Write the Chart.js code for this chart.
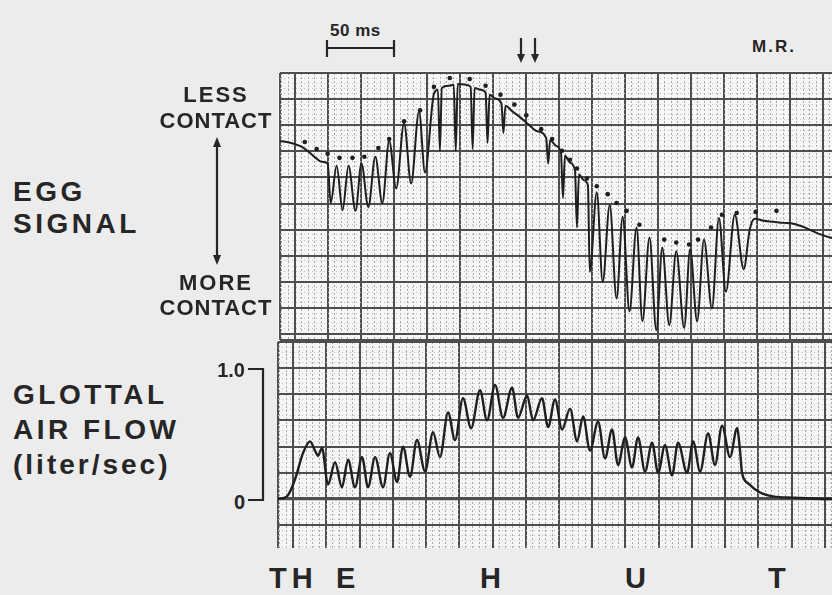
<!DOCTYPE html>
<html><head><meta charset="utf-8">
<script src="https://cdn.jsdelivr.net/npm/chart.js@4.4.1/dist/chart.umd.min.js"></script>
<style>
html,body{margin:0;padding:0;width:832px;height:595px;overflow:hidden;background:#ececec;}
body{position:relative;font-family:"Liberation Sans",Arial,sans-serif;font-weight:bold;color:#262626;}
.t{position:absolute;white-space:nowrap;line-height:1;}
#paper{position:absolute;left:278px;top:71px;width:554px;height:477px;background:#f6f6f6;}
canvas{position:absolute;}
svg{position:absolute;left:0;top:0;}
</style></head><body>
<div id="paper"></div>
<canvas id="egg" width="566" height="275" style="left:276px;top:69px"></canvas>
<canvas id="flow" width="566" height="210" style="left:276px;top:340px"></canvas>

<div class="t" style="left:13px;top:178px;font-size:28px;letter-spacing:3.5px">EGG</div>
<div class="t" style="left:13px;top:210px;font-size:28px;letter-spacing:3.5px">SIGNAL</div>
<div class="t" style="left:150px;top:84px;width:132px;text-align:center;font-size:22px;letter-spacing:2px">LESS</div>
<div class="t" style="left:150px;top:110px;width:132px;text-align:center;font-size:22px;letter-spacing:1px">CONTACT</div>
<div class="t" style="left:150px;top:272px;width:132px;text-align:center;font-size:22px;letter-spacing:2px">MORE</div>
<div class="t" style="left:150px;top:297px;width:132px;text-align:center;font-size:22px;letter-spacing:1px">CONTACT</div>
<div class="t" style="left:13px;top:381px;font-size:28px;letter-spacing:3.5px">GLOTTAL</div>
<div class="t" style="left:13px;top:416px;font-size:28px;letter-spacing:3.5px">AIR FLOW</div>
<div class="t" style="left:13px;top:451px;font-size:28px;letter-spacing:3px">(liter/sec)</div>
<div class="t" style="left:195px;top:360px;width:50px;text-align:right;font-size:20px">1.0</div>
<div class="t" style="left:195px;top:492px;width:50px;text-align:right;font-size:20px">0</div>
<div class="t" style="left:330px;top:22px;font-size:17px;letter-spacing:0.5px">50 ms</div>
<div class="t" style="left:752px;top:38px;font-size:17px;letter-spacing:2px">M.R.</div>
<div class="t" style="left:269px;top:564px;font-size:29px;letter-spacing:5px">TH</div>
<div class="t" style="left:336px;top:564px;font-size:29px">E</div>
<div class="t" style="left:480px;top:564px;font-size:29px">H</div>
<div class="t" style="left:625px;top:564px;font-size:29px">U</div>
<div class="t" style="left:768px;top:564px;font-size:29px">T</div>

<svg width="832" height="595" viewBox="0 0 832 595">
  <g stroke="#262626" stroke-width="2.2" fill="none">
    <line x1="327" y1="48" x2="394" y2="48"/>
    <line x1="327" y1="40" x2="327" y2="57"/>
    <line x1="394" y1="40" x2="394" y2="57"/>
    <line x1="521" y1="38" x2="521" y2="56"/>
    <line x1="535" y1="38" x2="535" y2="56"/>
    <line x1="217" y1="144" x2="217" y2="258"/>
    <polyline points="248,369 263,369 263,500 248,500"/>
  </g>
  <g fill="#262626">
    <polygon points="517,54 525,54 521,63"/>
    <polygon points="531,54 539,54 535,63"/>
    <polygon points="213,147 221,147 217,137"/>
    <polygon points="213,255 221,255 217,265"/>
  </g>
</svg>

<script>
// time axis in ms (one major grid division = 25 ms; 50 ms bar = 2 divisions)
const timeTicks = [0,25,50,75,100,125,150,175,200,225,250,275,300,325,350,375,400];
const eggTicks = [0,1,2,3,4,5,6,7,8,9,10];
const flowTicks = [1.0,0.8,0.6,0.4,0.2,0,-0.2];

// EGG signal (arbitrary units, up = less contact)
const eggTime = [-11.3,-6.0,0,5.3,10.5,15.8,20.3,24.8,27.1,31.6,36.1,40.6,45.9,50.4,55.6,60.9,66.2,71.4,76.7,82.7,88.0,94.0,98.5,105.3,108.3,109.8,111.3,116.6,120.3,121.8,123.3,129.3,133.1,134.6,136.1,140.6,144.4,145.9,147.4,151.9,156.4,157.9,159.4,164.7,170.7,176.7,183.5,190.3,191.8,193.3,197.8,201.5,203.0,204.5,208.3,212.1,213.6,215.1,218.9,221.9,223.3,228.6,233.1,238.4,243.6,248.2,253.4,258.7,263.2,268.5,273.7,278.2,283.5,288.8,294.8,299.3,304.6,309.8,315.8,321.1,326.4,333.1,339.9,344.4,348.2,354.9,362.5,370.0,377.5,386.5,396.3,405.3,411.3];
const eggSignal = [7.40,7.36,7.28,7.17,6.98,6.75,6.60,6.53,5.02,6.45,4.75,6.45,4.72,6.53,4.87,6.79,5.02,7.40,5.58,8.08,5.77,8.53,6.19,9.21,9.36,7.02,9.43,9.51,9.55,7.02,9.58,9.55,9.47,7.09,9.43,9.36,9.25,7.32,9.17,9.02,8.83,7.70,8.75,8.53,8.30,8.04,7.77,7.51,6.53,7.43,7.21,6.94,5.21,6.83,6.57,6.26,4.08,6.11,5.89,5.70,2.38,5.43,2.00,4.94,1.36,4.49,0.87,4.08,0.49,3.70,0.15,3.32,0.34,3.17,0.23,3.25,0.49,3.62,0.98,4.45,1.62,4.57,2.49,4.00,4.42,4.34,4.30,4.26,4.23,4.08,3.85,3.70,3.62];

// dotted envelope marks above the EGG trace
const eggDotTime = [7.5,16.5,24.8,33.8,43.6,52.6,63.2,71.4,82.7,94.8,105.3,117.3,132.4,144.4,155.7,166.2,175.2,186.5,194.8,202.3,208.3,213.6,221.1,228.6,236.9,243.6,251.2,260.9,279.7,288.8,298.5,305.3,315.1,323.4,334.6,348.9,364.7];
const eggDotSignal = [7.36,7.09,6.91,6.75,6.75,6.79,7.13,7.47,8.15,8.57,9.47,9.81,9.77,9.51,9.17,8.79,8.38,7.85,7.47,7.02,6.68,6.34,5.96,5.66,5.36,5.02,4.72,4.19,3.62,3.51,3.43,3.62,4.08,4.57,4.64,4.68,4.72];

// glottal air flow (liter/sec)
const flowTime = [-11.3,-4.5,1.5,7.5,12.8,16.5,18.8,21.8,26.3,31.6,36.8,41.4,46.6,51.9,56.4,61.7,67.7,72.9,78.2,82.7,88.0,93.2,99.3,105.3,110.5,116.6,121.8,127.8,133.9,140.6,145.9,151.9,157.9,164.7,169.2,176.0,180.5,187.2,191.8,197.0,202.3,208.3,213.6,218.1,223.3,229.4,234.6,239.9,244.4,249.7,254.9,259.4,264.7,270.0,274.5,279.7,285.0,289.5,296.3,300.8,306.1,312.1,317.3,322.6,328.6,333.9,336.1,337.6,342.2,351.2,361.0,376.0,405.3,411.3];
const flowValue = [0.00,0.02,0.15,0.35,0.44,0.37,0.33,0.39,0.11,0.28,0.09,0.30,0.09,0.32,0.09,0.32,0.09,0.35,0.13,0.40,0.17,0.45,0.21,0.51,0.32,0.66,0.45,0.77,0.54,0.83,0.60,0.87,0.62,0.85,0.62,0.79,0.60,0.77,0.55,0.76,0.53,0.69,0.44,0.63,0.37,0.59,0.31,0.53,0.26,0.47,0.24,0.47,0.21,0.43,0.20,0.41,0.18,0.43,0.20,0.44,0.21,0.50,0.26,0.56,0.32,0.54,0.37,0.20,0.12,0.05,0.02,0.01,0.00,0.00];

const X_MIN = -11.28, X_MAX = 411.28;
const EGG_MIN = -0.226, EGG_MAX = 10;
const FLOW_MIN = -0.374, FLOW_MAX = 1.1985;

const INK = '#1f1f1f', MAJOR = '#4e4e4e', MINOR = '#a9a9a9';

function range(a, b, s) { const r = []; for (let v = a; v <= b + 1e-9; v += s) r.push(+v.toFixed(4)); return r; }
const zeroW = s => { s.width = 0; }, zeroH = s => { s.height = 0; };
function setTicks(vals) { return s => { s.ticks = vals.map(v => ({ value: v })); }; }

function xScales() {
  return {
    xm: { type: 'linear', position: 'bottom', min: X_MIN, max: X_MAX,
      afterBuildTicks: setTicks(range(-10, 410, 5)), afterFit: zeroH,
      ticks: { display: false }, border: { display: false, dash: [2, 2] },
      grid: { color: MINOR, lineWidth: 1, drawTicks: false } },
    x: { type: 'linear', position: 'bottom', min: X_MIN, max: X_MAX,
      afterBuildTicks: setTicks([X_MIN].concat(timeTicks)), afterFit: zeroH,
      ticks: { display: false }, border: { display: false },
      grid: { color: MAJOR, lineWidth: 2, drawTicks: false } }
  };
}

const common = {
  responsive: false, animation: false, events: [],
  layout: { padding: 2 },
  plugins: { legend: { display: false }, tooltip: { enabled: false } }
};

new Chart(document.getElementById('egg'), {
  type: 'line',
  data: { datasets: [
    { type: 'line', data: eggTime.map((t, i) => ({ x: t, y: eggSignal[i] })),
      borderColor: INK, borderWidth: 2, pointRadius: 0, cubicInterpolationMode: 'monotone', fill: false },
    { type: 'scatter', data: eggDotTime.map((t, i) => ({ x: t, y: eggDotSignal[i] })),
      pointRadius: 2.3, pointBackgroundColor: INK, pointBorderWidth: 0, showLine: false }
  ]},
  options: Object.assign({}, common, {
    scales: Object.assign(xScales(), {
      ym: { type: 'linear', position: 'left', min: EGG_MIN, max: EGG_MAX,
        afterBuildTicks: setTicks(range(0, 10, 0.2)), afterFit: zeroW,
        ticks: { display: false }, border: { display: false, dash: [1, 3] },
        grid: { color: '#bdbdbd', lineWidth: 1, drawTicks: false } },
      y: { type: 'linear', position: 'left', min: EGG_MIN, max: EGG_MAX,
        afterBuildTicks: setTicks([EGG_MIN].concat(eggTicks)), afterFit: zeroW,
        ticks: { display: false }, border: { display: false },
        grid: { color: MAJOR, lineWidth: 2, drawTicks: false } }
    })
  })
});

new Chart(document.getElementById('flow'), {
  type: 'line',
  data: { datasets: [
    { type: 'line', data: flowTime.map((t, i) => ({ x: t, y: flowValue[i] })),
      borderColor: INK, borderWidth: 2.4, pointRadius: 0, cubicInterpolationMode: 'monotone', fill: false }
  ]},
  options: Object.assign({}, common, {
    scales: Object.assign(xScales(), {
      ym: { type: 'linear', position: 'left', min: FLOW_MIN, max: FLOW_MAX,
        afterBuildTicks: setTicks(range(-0.36, 1.16, 0.04)), afterFit: zeroW,
        ticks: { display: false }, border: { display: false, dash: [1, 3] },
        grid: { color: '#bdbdbd', lineWidth: 1, drawTicks: false } },
      y: { type: 'linear', position: 'left', min: FLOW_MIN, max: FLOW_MAX,
        afterBuildTicks: setTicks([FLOW_MAX].concat(flowTicks)), afterFit: zeroW,
        ticks: { display: false }, border: { display: false },
        grid: { color: MAJOR, lineWidth: c => (c.tick && c.tick.value === 0 ? 3.2 : 2), drawTicks: false } }
    })
  })
});
</script>
</body></html>
